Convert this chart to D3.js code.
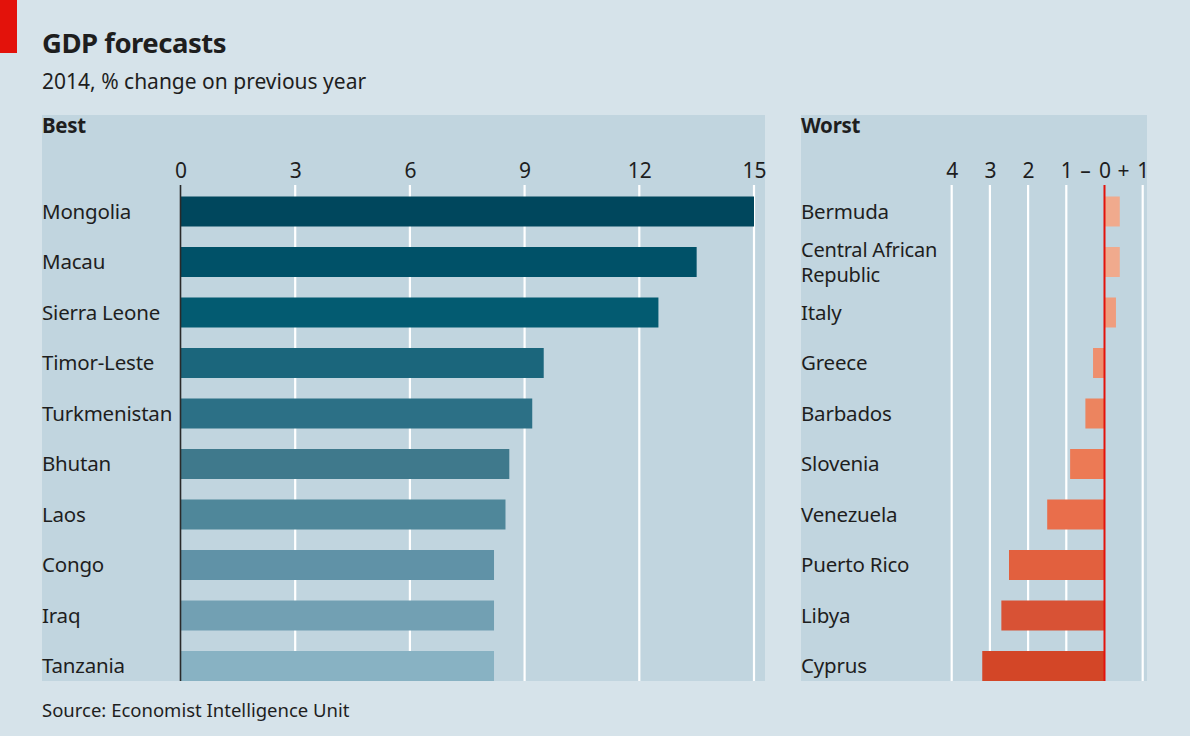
<!DOCTYPE html>
<html>
<head>
<meta charset="utf-8">
<script src="https://cdn.jsdelivr.net/npm/d3@7"></script>
<style>
  html, body { margin: 0; padding: 0; background: #d6e3ea; }
  svg { display: block; }
  text { font-family: "Noto Sans", "Open Sans", sans-serif; fill: #1e1e1e; }
</style>
</head>
<body>
<svg id="chart" width="1190" height="736"></svg>
<script>
// ---- Data ----
const bestCountries = ["Mongolia", "Macau", "Sierra Leone", "Timor-Leste", "Turkmenistan", "Bhutan", "Laos", "Congo", "Iraq", "Tanzania"];
const bestValues = [15.0, 13.5, 12.5, 9.5, 9.2, 8.6, 8.5, 8.2, 8.2, 8.2];
const bestTicks = [0, 3, 6, 9, 12, 15];

const worstCountries = ["Bermuda", "Central African Republic", "Italy", "Greece", "Barbados", "Slovenia", "Venezuela", "Puerto Rico", "Libya", "Cyprus"];
const worstValues = [0.4, 0.4, 0.3, -0.3, -0.5, -0.9, -1.5, -2.5, -2.7, -3.2];
const worstTicks = [-4, -3, -2, -1, 0, 1];
const worstTickLabels = ["4", "3", "2", "1", "0", "1"];

// ---- Styles ----
const bestColors = ["#00475d", "#005168", "#035b71", "#1b667c", "#2c7086", "#3f798c", "#4f879a", "#6092a7", "#72a0b3", "#88b2c3"];
const worstColors = ["#f0aa8d", "#f0aa8d", "#ef9d7e", "#ee8f6e", "#ec845f", "#ec7a55", "#e96e4b", "#e2603e", "#d85235", "#d34627"];

const svg = d3.select("#chart");
const W = 1190, H = 736;
svg.append("rect").attr("width", W).attr("height", H).attr("fill", "#d6e3ea");

// red tag
svg.append("rect").attr("x", 0).attr("y", 0).attr("width", 17).attr("height", 53).attr("fill", "#e3120b");

svg.append("text").attr("x", 42).attr("y", 53)
  .attr("font-size", 27.5).attr("font-weight", "bold").attr("letter-spacing", -0.5)
  .text("GDP forecasts");
svg.append("text").attr("x", 42).attr("y", 89)
  .attr("font-size", 21)
  .text("2014, % change on previous year");
svg.append("text").attr("x", 42).attr("y", 717)
  .attr("font-size", 18.5)
  .text("Source: Economist Intelligence Unit");

const panelTop = 115, panelBottom = 681, gridTop = 185;
const panelBg = "#c1d5df";

// ---- Left panel ----
svg.append("rect").attr("x", 42).attr("y", panelTop).attr("width", 723).attr("height", panelBottom - panelTop).attr("fill", panelBg);
svg.append("text").attr("x", 42).attr("y", 133).attr("font-size", 20.5).attr("font-weight", "bold").attr("letter-spacing", -0.3).text("Best");

const xL = d3.scaleLinear().domain([0, 15]).range([180.5, 754]);
const yL = d3.scaleBand().domain(bestCountries).range([196.5, 681]).paddingInner(0.406).paddingOuter(0);

const gL = svg.append("g");
gL.selectAll("line.grid").data(bestTicks.filter(t => t !== 0)).join("line")
  .attr("class", "grid")
  .attr("x1", d => xL(d)).attr("x2", d => xL(d))
  .attr("y1", gridTop).attr("y2", panelBottom)
  .attr("stroke", "#ffffff").attr("stroke-width", 2.2);

const axL = d3.axisTop(xL).tickValues(bestTicks).tickSize(0).tickPadding(0);
const axLg = svg.append("g").attr("transform", `translate(0,178)`).call(axL);
axLg.select(".domain").remove();
axLg.selectAll("text").attr("font-size", 21).attr("fill", "#1e1e1e").attr("font-family", "\"Noto Sans\", sans-serif").attr("dy", 0);

gL.selectAll("rect.bar").data(bestValues).join("rect")
  .attr("class", "bar")
  .attr("x", xL(0))
  .attr("y", (d, i) => yL(bestCountries[i]))
  .attr("width", d => xL(d) - xL(0))
  .attr("height", yL.bandwidth())
  .attr("fill", (d, i) => bestColors[i]);

gL.append("line").attr("x1", xL(0)).attr("x2", xL(0)).attr("y1", gridTop).attr("y2", panelBottom)
  .attr("stroke", "#2a2a2a").attr("stroke-width", 1.6);

gL.selectAll("text.lbl").data(bestCountries).join("text")
  .attr("class", "lbl")
  .attr("x", 42)
  .attr("y", d => yL(d) + yL.bandwidth() / 2)
  .attr("dy", "0.36em")
  .attr("font-size", 20.5).attr("letter-spacing", -0.2)
  .text(d => d);

// ---- Right panel ----
svg.append("rect").attr("x", 801).attr("y", panelTop).attr("width", 346).attr("height", panelBottom - panelTop).attr("fill", panelBg);
svg.append("text").attr("x", 801).attr("y", 133).attr("font-size", 20.5).attr("font-weight", "bold").attr("letter-spacing", -0.3).text("Worst");

const xR = d3.scaleLinear().domain([-4, 1]).range([951.7, 1142.7]);
const yR = d3.scaleBand().domain(worstCountries).range([196.5, 681]).paddingInner(0.406).paddingOuter(0);

const gR = svg.append("g");
gR.selectAll("line.grid").data(worstTicks.filter(t => t !== 0)).join("line")
  .attr("class", "grid")
  .attr("x1", d => xR(d)).attr("x2", d => xR(d))
  .attr("y1", gridTop).attr("y2", panelBottom)
  .attr("stroke", "#ffffff").attr("stroke-width", 2.2);

const axR = d3.axisTop(xR).tickValues(worstTicks).tickSize(0).tickPadding(0)
  .tickFormat((d, i) => worstTickLabels[i]);
const axRg = svg.append("g").attr("transform", `translate(0,178)`).call(axR);
axRg.select(".domain").remove();
axRg.selectAll("text").attr("font-size", 21).attr("fill", "#1e1e1e").attr("font-family", "\"Noto Sans\", sans-serif").attr("dy", 0);
// sign markers between ticks
svg.append("text").attr("x", xR(-0.5)).attr("y", 178).attr("text-anchor", "middle").attr("font-size", 21).text("\u2013");
svg.append("text").attr("x", xR(0.5)).attr("y", 178).attr("text-anchor", "middle").attr("font-size", 21).text("+");

gR.selectAll("rect.bar").data(worstValues).join("rect")
  .attr("class", "bar")
  .attr("x", d => Math.min(xR(d), xR(0)))
  .attr("y", (d, i) => yR(worstCountries[i]))
  .attr("width", d => Math.abs(xR(d) - xR(0)))
  .attr("height", yR.bandwidth())
  .attr("fill", (d, i) => worstColors[i]);

gR.append("line").attr("x1", xR(0)).attr("x2", xR(0)).attr("y1", gridTop).attr("y2", panelBottom)
  .attr("stroke", "#e3120b").attr("stroke-width", 2);

const lblR = gR.selectAll("text.lbl").data(worstCountries).join("text")
  .attr("class", "lbl")
  .attr("x", 801)
  .attr("font-size", 20.5).attr("letter-spacing", -0.2);
lblR.each(function (d) {
  const t = d3.select(this);
  const cy = yR(d) + yR.bandwidth() / 2;
  if (d === "Central African Republic") {
    t.attr("font-size", 20);
    t.append("tspan").attr("x", 801).attr("y", cy - 12.5).attr("dy", "0.36em").text("Central African");
    t.append("tspan").attr("x", 801).attr("y", cy + 12.5).attr("dy", "0.36em").text("Republic");
  } else {
    t.attr("y", cy).attr("dy", "0.36em").text(d);
  }
});
</script>
</body>
</html>
